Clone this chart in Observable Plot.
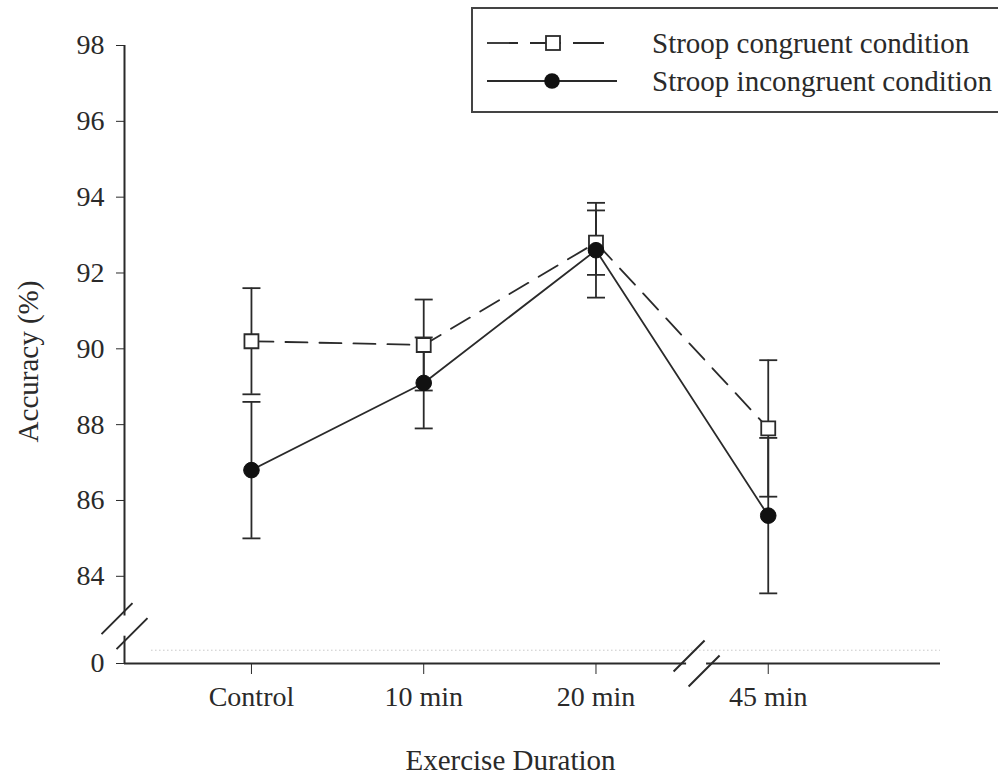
<!DOCTYPE html>
<html>
<head>
<meta charset="utf-8">
<script src="https://cdn.jsdelivr.net/npm/d3@7"></script>
<script src="https://cdn.jsdelivr.net/npm/@observablehq/plot@0.6"></script>
<style>
  html, body { margin: 0; padding: 0; background: #fff; overflow: hidden; }
  #wrap { position: relative; width: 998px; height: 774px; }
  #legend { position: absolute; left: 471px; top: 7px; width: 540px; height: 106px;
            border: 2px solid #444; background: #fff; box-sizing: border-box; }
</style>
</head>
<body>
<div id="wrap">
  <div id="chart"></div>
  <div id="legend"></div>
</div>
<script>
// ---- data ----
const categories = ["Control", "10 min", "20 min", "45 min"];
const seriesNames = ["Stroop congruent condition", "Stroop incongruent condition"];
const congruentMean = [90.2, 90.1, 92.8, 87.9];
const congruentSE = [1.4, 1.2, 0.85, 1.8];
const incongruentMean = [86.8, 89.1, 92.6, 85.6];
const incongruentSE = [1.8, 1.2, 1.25, 2.05];
const yTicks = [84, 86, 88, 90, 92, 94, 96, 98];
const yZeroLabel = "0";
const xLabel = "Exercise Duration";
const yLabel = "Accuracy (%)";

// ---- layout helpers (scale positions for the broken axes) ----
const yBase = 81.7;             // where "0" sits below the y-axis break
const yTop = 98;
const xMin = -0.737, xMax = 4;
const yBreak = [82.42, 82.95];
const xBreak = [2.526, 2.642];
const ink = "#2a2a2a";
const font = "'Liberation Serif', 'Times New Roman', serif";

function rows(means, ses, name) {
  return categories.map((c, i) => ({i, cat: c, series: name, mean: means[i], lo: means[i] - ses[i], hi: means[i] + ses[i]}));
}
const cong = rows(congruentMean, congruentSE, seriesNames[0]);
const incong = rows(incongruentMean, incongruentSE, seriesNames[1]);
const all = cong.concat(incong);

const capSymbol = { draw(ctx) { ctx.moveTo(-9, 0); ctx.lineTo(9, 0); } };
const breakSymbol = { draw(ctx) {
  ctx.moveTo(-23, 8); ctx.lineTo(8, -23);
  ctx.moveTo(-8, 23); ctx.lineTo(23, -8);
} };

const chart = Plot.plot({
  width: 998,
  height: 774,
  marginLeft: 124,
  marginRight: 58,
  marginTop: 45,
  marginBottom: 111,
  style: { fontFamily: font, fontSize: "28px", color: ink, background: "white" },
  x: {
    type: "linear", domain: [xMin, xMax],
    ticks: categories.map((c, i) => i),
    tickFormat: i => categories[i],
    tickSize: 11, tickPadding: 12,
    label: null
  },
  y: {
    type: "linear", domain: [yBase, yTop],
    ticks: [yBase, ...yTicks],
    tickFormat: d => d === yBase ? yZeroLabel : String(d),
    tickSize: 8, tickPadding: 12,
    label: null
  },
  marks: [
    // faint dotted line just above the baseline
    Plot.ruleY([82.05], {x1: -0.58, x2: xMax, stroke: "#c8c8c8", strokeDasharray: "1.5,2.5", strokeWidth: 1}),
    // broken axes
    Plot.ruleX([xMin], {y1: yBase, y2: yBreak[0], stroke: ink, strokeWidth: 2}),
    Plot.ruleX([xMin], {y1: yBreak[1], y2: yTop, stroke: ink, strokeWidth: 2}),
    Plot.ruleY([yBase], {x1: xMin, x2: xBreak[0], stroke: ink, strokeWidth: 2}),
    Plot.ruleY([yBase], {x1: xBreak[1], x2: xMax, stroke: ink, strokeWidth: 2}),
    Plot.dot([{x: xMin, y: (yBreak[0] + yBreak[1]) / 2}], {x: "x", y: "y", symbol: breakSymbol, stroke: ink, strokeWidth: 2, fill: "none"}),
    Plot.dot([{x: (xBreak[0] + xBreak[1]) / 2, y: yBase}], {x: "x", y: "y", symbol: breakSymbol, stroke: ink, strokeWidth: 2, fill: "none"}),
    // series lines
    Plot.line(cong, {x: "i", y: "mean", stroke: ink, strokeWidth: 1.8, strokeDasharray: "22,12"}),
    Plot.line(incong, {x: "i", y: "mean", stroke: ink, strokeWidth: 1.8}),
    // error bars
    Plot.ruleX(all, {x: "i", y1: "lo", y2: "hi", stroke: ink, strokeWidth: 1.8}),
    Plot.dot(all, {x: "i", y: "lo", symbol: capSymbol, stroke: ink, strokeWidth: 1.8}),
    Plot.dot(all, {x: "i", y: "hi", symbol: capSymbol, stroke: ink, strokeWidth: 1.8}),
    // markers
    Plot.dot(cong, {x: "i", y: "mean", symbol: "square", r: 7.9, fill: "white", stroke: ink, strokeWidth: 1.8}),
    Plot.dot(incong, {x: "i", y: "mean", symbol: "circle", r: 7.8, fill: "#111", stroke: "#111", strokeWidth: 1}),
    // axis titles
    Plot.text([xLabel], {frameAnchor: "bottom", dx: -22, dy: 106, lineAnchor: "bottom", fontSize: 29, fill: ink}),
    Plot.text([yLabel], {frameAnchor: "left", rotate: -90, dx: -96, dy: 7, textAnchor: "middle", lineAnchor: "middle", fontSize: 29, fill: ink})
  ]
});
document.getElementById("chart").appendChild(chart);

// ---- legend (overlay, top right) ----
const ns = "http://www.w3.org/2000/svg";
const lg = document.createElementNS(ns, "svg");
lg.setAttribute("width", 540);
lg.setAttribute("height", 102);
lg.style.fontFamily = font;
const items = [
  {name: seriesNames[0], y: 34, dash: "31,12", marker: "square"},
  {name: seriesNames[1], y: 72, dash: null, marker: "circle"}
];
for (const it of items) {
  const ln = document.createElementNS(ns, "line");
  ln.setAttribute("x1", 14); ln.setAttribute("x2", it.dash ? 134 : 144);
  ln.setAttribute("y1", it.y); ln.setAttribute("y2", it.y);
  ln.setAttribute("stroke", ink); ln.setAttribute("stroke-width", 1.8);
  if (it.dash) ln.setAttribute("stroke-dasharray", it.dash);
  lg.appendChild(ln);
  if (it.marker === "square") {
    const r = document.createElementNS(ns, "rect");
    r.setAttribute("x", 73); r.setAttribute("y", it.y - 7); r.setAttribute("width", 14); r.setAttribute("height", 14);
    r.setAttribute("fill", "white"); r.setAttribute("stroke", ink); r.setAttribute("stroke-width", 1.8);
    lg.appendChild(r);
  } else {
    const c = document.createElementNS(ns, "circle");
    c.setAttribute("cx", 79); c.setAttribute("cy", it.y); c.setAttribute("r", 7.8);
    c.setAttribute("fill", "#111");
    lg.appendChild(c);
  }
  const t = document.createElementNS(ns, "text");
  t.setAttribute("x", 179); t.setAttribute("y", it.y + 10);
  t.setAttribute("font-size", 29); t.setAttribute("fill", ink);
  t.textContent = it.name;
  lg.appendChild(t);
}
document.getElementById("legend").appendChild(lg);
</script>
</body>
</html>
